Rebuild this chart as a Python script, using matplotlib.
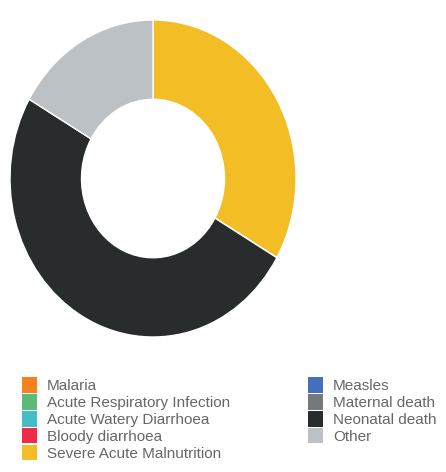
import matplotlib
matplotlib.use('Agg')
import matplotlib.pyplot as plt
from matplotlib.patches import Patch, Rectangle
from matplotlib.legend_handler import HandlerPatch

plt.rcParams['font.family'] = ['Liberation Sans', 'DejaVu Sans']

causes = ['Malaria', 'Acute Respiratory Infection', 'Acute Watery Diarrhoea',
          'Bloody diarrhoea', 'Severe Acute Malnutrition', 'Measles',
          'Maternal death', 'Neonatal death', 'Other']
deaths = [0, 0, 0, 0, 2, 0, 0, 3, 1]
colors = ['#F5821F', '#5DB977', '#45BDC9', '#EE2C47', '#F3BD26', '#4670BE',
          '#75797C', '#292C2D', '#BBC1C4']

fig = plt.figure(figsize=(4.46, 4.72), dpi=100)
ax = fig.add_axes([10/446, 1 - 337/472, 286/446, 317/472])
ax.pie(deaths, colors=colors, startangle=90, counterclock=False, radius=1,
       wedgeprops=dict(width=0.5, edgecolor='white', linewidth=1))
ax.set_aspect('auto')
ax.set_xlim(-1, 1)
ax.set_ylim(-1, 1)
ax.axis('off')


def square(legend, orig_handle, xdescent, ydescent, width, height, fontsize):
    # slightly taller swatches than the matplotlib default
    return Rectangle((-xdescent, -ydescent - 0.8), width, height + 1.6)


handles = [Patch(facecolor=c, edgecolor='none') for c in colors]
leg_kw = dict(frameon=False, fontsize=11, borderpad=0, borderaxespad=0,
              handlelength=1.0, handleheight=1.0, handletextpad=0.62,
              labelspacing=0.12, labelcolor='#666666', loc='upper left',
              handler_map={Patch: HandlerPatch(patch_func=square)})
leg1 = fig.legend(handles[:5], causes[:5], bbox_to_anchor=(22/446, 1 - 378/472), **leg_kw)
leg2 = fig.legend(handles[5:], causes[5:], bbox_to_anchor=(308/446, 1 - 378/472), **leg_kw)

fig.savefig('out.png', dpi=100, facecolor='white')
